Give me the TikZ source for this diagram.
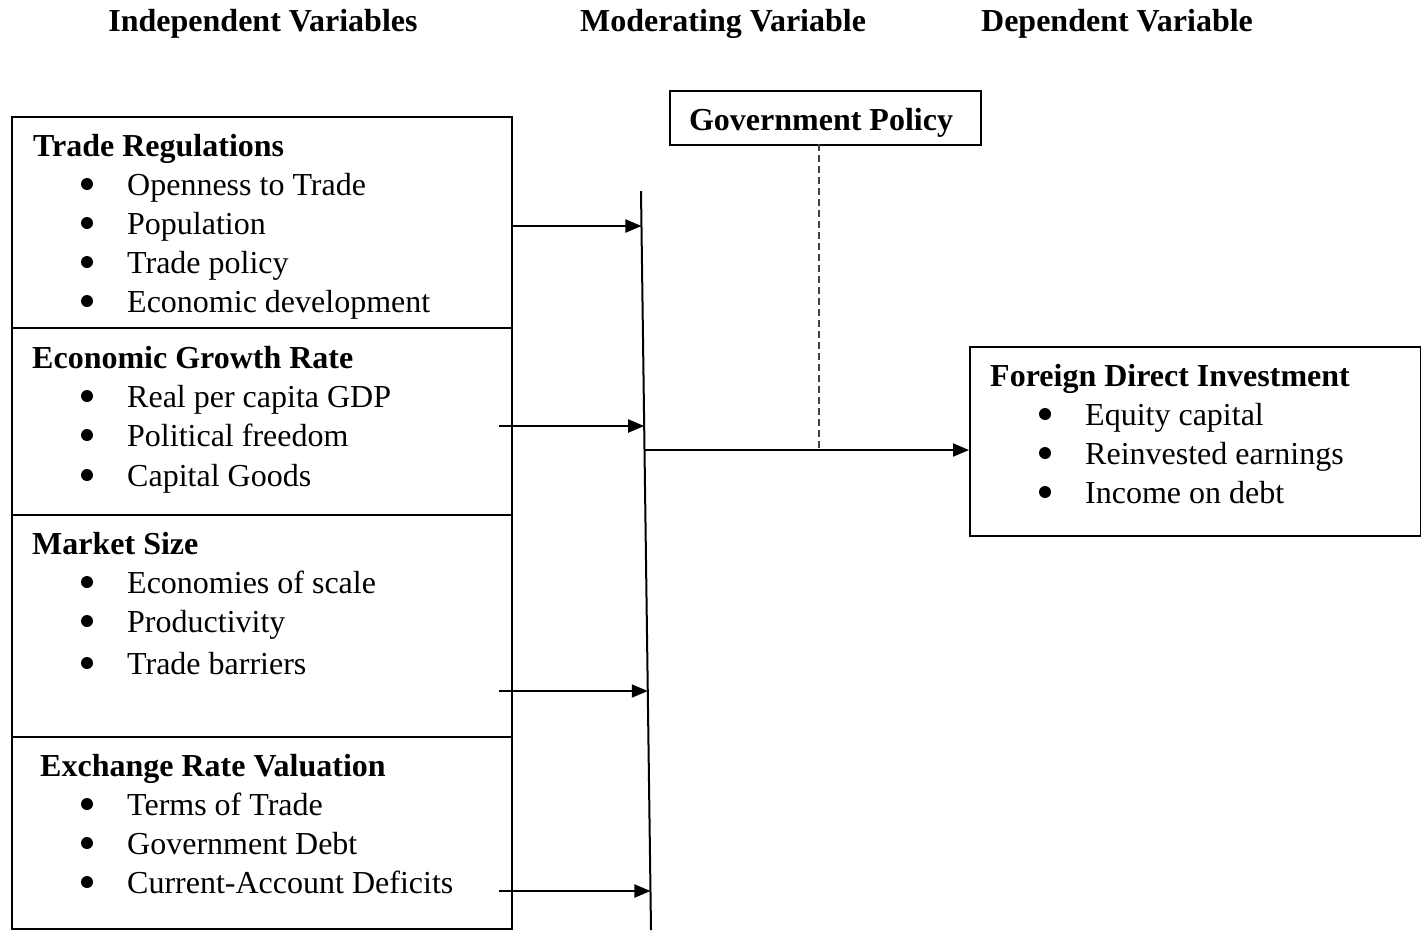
\documentclass[tikz,border=0pt]{standalone}
\usepackage{fontspec}
\setmainfont{Liberation Serif}
\usetikzlibrary{arrows.meta,calc}
\begin{document}
\begin{tikzpicture}[x=1pt,y=-1pt,
  box/.style={draw,line width=2pt,anchor=north west,inner sep=0pt},
  hdr/.style={font=\fontsize{32}{38}\selectfont\bfseries,anchor=base},
  ttl/.style={font=\fontsize{32}{38}\selectfont\bfseries,anchor=base west,inner sep=0pt},
  itm/.style={font=\fontsize{32}{38}\selectfont,anchor=base west,inner sep=0pt},
  bul/.style={circle,fill=black,inner sep=0pt,minimum size=12pt,yshift=11pt},
  arr/.style={line width=2pt,-{Triangle[length=16pt,width=13pt]}},
  ln/.style={line width=2pt}]
\useasboundingbox (0,0) rectangle (1421,930);
% headers
\node[hdr] (h1) at (263,31) {Independent Variables};
\node[hdr] (h2) at (723,31) {Moderating Variable};
\node[hdr] (h3) at (1117,31) {Dependent Variable};
% left boxes
\node[box,minimum width=500,minimum height=211] (b1) at (11,116) {};
\node[box,minimum width=500,minimum height=187] (b2) at (11,327) {};
\node[box,minimum width=500,minimum height=222] (b3) at (11,514) {};
\node[box,minimum width=500,minimum height=192] (b4) at (11,736) {};
% box 1
\node[ttl] (t1) at (33,156) {Trade Regulations};
\node[bul] (p11) at (87,195) {}; \node[itm] (i11) at (127,195) {Openness to Trade};
\node[bul] (p12) at (87,234) {}; \node[itm] (i12) at (127,234) {Population};
\node[bul] (p13) at (87,273) {}; \node[itm] (i13) at (127,273) {Trade policy};
\node[bul] (p14) at (87,312) {}; \node[itm] (i14) at (127,312) {Economic development};
% box 2
\node[ttl] (t2) at (32,368) {Economic Growth Rate};
\node[bul] (p21) at (87,407) {}; \node[itm] (i21) at (127,407) {Real per capita GDP};
\node[bul] (p22) at (87,446) {}; \node[itm] (i22) at (127,446) {Political freedom};
\node[bul] (p23) at (87,486) {}; \node[itm] (i23) at (127,486) {Capital Goods};
% box 3
\node[ttl] (t3) at (32,554) {Market Size};
\node[bul] (p31) at (87,593) {}; \node[itm] (i31) at (127,593) {Economies of scale};
\node[bul] (p32) at (87,632) {}; \node[itm] (i32) at (127,632) {Productivity};
\node[bul] (p33) at (87,674) {}; \node[itm] (i33) at (127,674) {Trade barriers};
% box 4
\node[ttl] (t4) at (40,776) {Exchange Rate Valuation};
\node[bul] (p41) at (87,815) {}; \node[itm] (i41) at (127,815) {Terms of Trade};
\node[bul] (p42) at (87,854) {}; \node[itm] (i42) at (127,854) {Government Debt};
\node[bul] (p43) at (87,893) {}; \node[itm] (i43) at (127,893) {Current-Account Deficits};
% government policy
\node[box,minimum width=311,minimum height=54] (gp) at (669,90) {};
\node[font=\fontsize{32}{38}\selectfont\bfseries,anchor=base] (gpt) at (821,130) {Government Policy};
% FDI box
\node[box,minimum width=451,minimum height=189] (fdi) at (969,346) {};
\node[ttl] (t5) at (990,386) {Foreign Direct Investment};
\node[bul] (p51) at (1045,425) {}; \node[itm] (i51) at (1085,425) {Equity capital};
\node[bul] (p52) at (1045,464) {}; \node[itm] (i52) at (1085,464) {Reinvested earnings};
\node[bul] (p53) at (1045,503) {}; \node[itm] (i53) at (1085,503) {Income on debt};
% vertical moderating line
\coordinate (vt) at (641,191);
\coordinate (vb) at (651,930);
\draw[ln] (vt) -- (vb);
% arrows into line
\coordinate (a1s) at (511,226);
\coordinate (a1e) at ($(vt)!0.0474!(vb)$);
\coordinate (a2s) at (499,426);
\coordinate (a2e) at ($(vt)!0.318!(vb)$);
\coordinate (a3s) at (499,691);
\coordinate (a3e) at ($(vt)!0.6766!(vb)$);
\coordinate (a4s) at (499,891);
\coordinate (a4e) at ($(vt)!0.9472!(vb)$);
\draw[arr] (a1s) -- (a1e |- a1s);
\draw[arr] (a2s) -- (a2e |- a2s);
\draw[arr] (a3s) -- (a3e |- a3s);
\draw[arr] (a4s) -- (a4e |- a4s);
% main arrow
\coordinate (ms) at ($(vt)!0.3505!(vb)$);
\coordinate (me) at (fdi.west |- ms);
\draw[arr] (ms) -- (me);
% dashed
\coordinate (ds) at (819,144);
\coordinate (de) at (819,448);
\draw[line width=1.2pt,black!75,dash pattern=on 7pt off 4pt] (ds) -- (de);
\end{tikzpicture}
\end{document}
